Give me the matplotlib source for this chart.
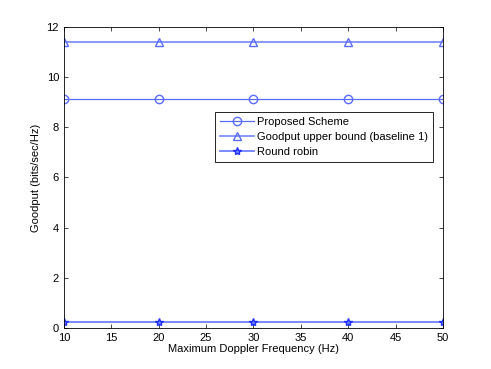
import numpy as np
import matplotlib
matplotlib.use("Agg")
import matplotlib.pyplot as plt

plt.rcParams['font.family'] = ['Liberation Sans', 'DejaVu Sans']
plt.rcParams['font.size'] = 8

# data
doppler = [10, 20, 30, 40, 50]
proposed = [9.12, 9.12, 9.12, 9.12, 9.12]
upper_bound = [11.4, 11.4, 11.4, 11.4, 11.4]
round_robin = [0.26, 0.26, 0.26, 0.26, 0.26]

fig = plt.figure(figsize=(4.91, 3.69), dpi=100)
ax = fig.add_axes([0.130, 0.111, 0.772, 0.816])

blue = '#5a6cff'
ax.plot(doppler, proposed, color=blue, marker='o', mfc='none', ms=6, lw=0.9, label='Proposed Scheme')
ax.plot(doppler, upper_bound, color='#8090ff', marker='^', mfc='none', mec=blue, ms=6, lw=1.3,
        label='Goodput upper bound (baseline 1)')
ax.plot(doppler, round_robin, color='#7080ff', marker='*', ms=6, mec='#2030ff', lw=1.3, label='Round robin')

ax.set_xlim(10, 50)
ax.set_ylim(0, 12)
ax.set_xticks(np.arange(10, 51, 5))
ax.set_yticks(np.arange(0, 13, 2))
ax.tick_params(direction='in', top=True, right=True, length=3, width=0.5)
for s in ax.spines.values():
    s.set_linewidth(0.6)
ax.set_xlabel('Maximum Doppler Frequency (Hz)', labelpad=1)
ax.set_ylabel('Goodput (bits/sec/Hz)')

leg = ax.legend(loc='upper left', bbox_to_anchor=(0.385, 0.735), fancybox=False, edgecolor='black',
                framealpha=1, borderpad=0.45, labelspacing=0.45, handlelength=3.0, handletextpad=0.3)
leg.get_frame().set_linewidth(0.6)

fig.savefig('out.png', dpi=100)
